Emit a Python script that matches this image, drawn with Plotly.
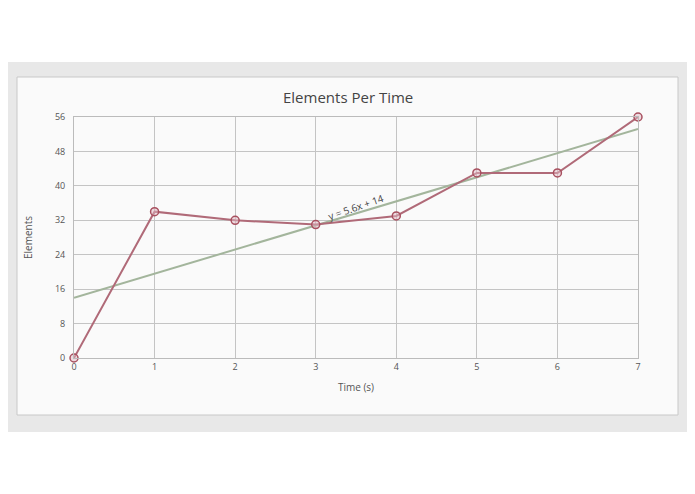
import plotly.graph_objects as go

time_s = [0, 1, 2, 3, 4, 5, 6, 7]
elements = [0, 34, 32, 31, 33, 43, 43, 56]
slope, intercept = 5.6, 14
trend_x = [0, 7]
trend_y = [intercept + slope * x for x in trend_x]
y_ticks = [0, 8, 16, 24, 32, 40, 48, 56]

OFF = 8  # page body offset
W, H = 695 - OFF, 494 - OFF
L, T = 74 - OFF, 117 - OFF
R, B = W - (638 - OFF), H - (358 - OFF)
pw, ph = W - L - R, H - T - B
def px(x): return (x - OFF - L) / pw
def py(y): return (H - B - (y - OFF)) / ph

fig = go.Figure()
fig.add_trace(go.Scatter(x=trend_x, y=trend_y, mode="lines",
                         line=dict(color="#a3b59c", width=2), hoverinfo="skip"))
fig.add_trace(go.Scatter(x=time_s, y=elements, mode="lines+markers", cliponaxis=False,
                         line=dict(color="#b06a78", width=2),
                         marker=dict(size=8, color="rgba(225,185,195,0.5)",
                                     line=dict(color="#a8505f", width=1.5))))

fig.update_layout(
    width=W, height=H, showlegend=False,
    margin=dict(l=L, r=R, t=T, b=B),
    paper_bgcolor="white", plot_bgcolor="rgba(0,0,0,0)",
    font=dict(family="Open Sans, DejaVu Sans", size=10, color="#555"),
    xaxis=dict(range=[0, 7], tickvals=time_s, showgrid=True, gridcolor="#c4c4c4",
               zeroline=False, showline=True, linecolor="#bbb", mirror=True,
               title=dict(text="Time (s)", font=dict(size=10, color="#555"), standoff=12),
               tickfont=dict(size=9, color="#555")),
    yaxis=dict(range=[0, 56], tickvals=y_ticks, showgrid=True, gridcolor="#c4c4c4",
               zeroline=False, showline=True, linecolor="#bbb", mirror=True,
               title=dict(text="Elements", font=dict(size=10, color="#555"), standoff=20),
               tickfont=dict(size=9, color="#555"), ticklabelstandoff=6),
    shapes=[
        dict(type="rect", xref="paper", yref="paper", layer="below",
             x0=px(0), x1=px(720), y0=py(432), y1=py(62),
             fillcolor="#e8e8e8", line=dict(width=0)),
        dict(type="rect", xref="paper", yref="paper", layer="below",
             x0=px(17), x1=px(678), y0=py(415), y1=py(77),
             fillcolor="#fafafa", line=dict(color="#c8c8c8", width=1)),
    ],
    annotations=[
        dict(text="Elements Per Time", xref="paper", yref="paper",
             x=px(348), y=py(97), yanchor="middle", showarrow=False,
             font=dict(size=15, color="#444")),
        dict(text="y = 5.6x + 14", x=3.5, y=35, showarrow=False, textangle=-19,
             font=dict(size=10, color="#444")),
    ],
)
fig.write_html("out.html")
